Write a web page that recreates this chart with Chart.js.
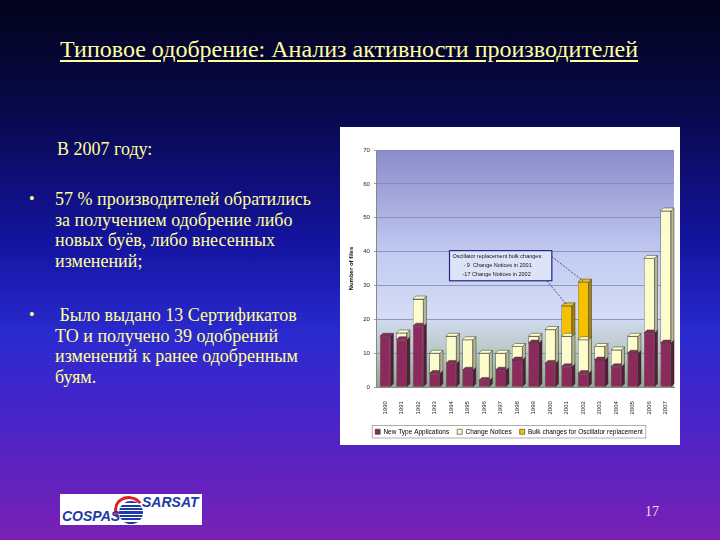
<!DOCTYPE html>
<html>
<head>
<meta charset="utf-8">
<script src="https://cdn.jsdelivr.net/npm/chart.js@4"></script>
<style>
  html, body { margin: 0; padding: 0; }
  body {
    width: 720px; height: 540px; position: relative; overflow: hidden;
    background: linear-gradient(#03031c 0%, #08084a 20%, #1414a0 45%, #2a2ad0 62%, #4a24c8 78%, #7a20b4 100%);
    font-family: "Liberation Serif", "Times New Roman", serif;
  }
  .title {
    position: absolute; left: 60px; top: 36px; white-space: nowrap;
    color: #ffff9c; font-size: 24px; text-decoration: underline; text-underline-offset: 3px;
  }
  .txt { position: absolute; color: #ffff99; font-size: 18px; line-height: 20.5px; white-space: nowrap; }
  .bullet { position: absolute; color: #ffff99; font-size: 16px; }
  .panel { position: absolute; left: 340px; top: 127px; width: 340px; height: 318px; background: #fff; }
  .logo { position: absolute; left: 60px; top: 494px; width: 142px; height: 31px; background: #fff; }
  .logo .cos { position: absolute; left: 2px; top: 14px; font: italic bold 14px "Liberation Sans", Arial, sans-serif; color: #1c3aa8; }
  .logo .sar { position: absolute; left: 82px; top: 0px; font: italic bold 14px "Liberation Sans", Arial, sans-serif; color: #1c3aa8; }
  .logo .globe {
    position: absolute; left: 59px; top: 7px; width: 24px; height: 23px; border-radius: 50%;
    background: repeating-linear-gradient(#1c3aa8 0 2px, #fff 2px 3.5px);
  }
  .logo .arc {
    position: absolute; left: 54px; top: 2px; width: 30px; height: 28px; border-radius: 50%;
    border: 3px solid transparent; border-top-color: #e02020; border-left-color: #e02020;
    transform: rotate(10deg); box-sizing: border-box;
  }
  .page { position: absolute; left: 645px; top: 504px; color: #ffd8f0; font-size: 14px; }
</style>
</head>
<body>
<div class="title">Типовое одобрение: Анализ активности производителей</div>

<div class="txt" style="left:57px; top:139px;">В 2007 году:</div>

<div class="bullet" style="left:29px; top:190px;">•</div>
<div class="txt" style="left:55px; top:189px;">57 % производителей обратились<br>за получением одобрение либо<br>новых буёв, либо внесенных<br>изменений;</div>

<div class="bullet" style="left:29px; top:306px;">•</div>
<div class="txt" style="left:55px; top:305px;">&nbsp;Было выдано 13 Сертификатов<br>ТО и получено 39 одобрений<br>изменений к ранее одобренным<br>буям.</div>

<div class="panel"><canvas id="chart" width="340" height="318"></canvas></div>

<div class="logo">
  <div class="arc"></div>
  <div class="globe"></div>
  <div class="cos">COSPAS</div>
  <div class="sar">SARSAT</div>
</div>
<div class="page">17</div>

<script>
const years = ['1990', '1991', '1992', '1993', '1994', '1995', '1996', '1997', '1998', '1999',
               '2000', '2001', '2002', '2003', '2004', '2005', '2006', '2007'];
const newTypeApps   = [15, 14, 18, 4, 7, 5, 2, 5, 8, 13, 7, 6, 4, 8, 6, 10, 16, 13];
const changeNotices = [0, 2, 8, 6, 8, 9, 8, 5, 4, 2, 10, 9, 10, 4, 5, 5, 22, 39];
const bulkChanges   = [0, 0, 0, 0, 0, 0, 0, 0, 0, 0, 0, 9, 17, 0, 0, 0, 0, 0];
const yTicks = [0, 10, 20, 30, 40, 50, 60, 70];
const noteLines = ['Oscillator replacement bulk changes:', '- 9  Change Notices in 2001', '-17 Change Notices in 2002'];

const seriesNames = ['New Type Applications', 'Change Notices', 'Bulk changes for Oscillator replacement'];
const seriesColors = ['#8c2a5c', '#fdfdcc', '#f6c200'];
const seriesSides = ['#5a1a3a', '#b8b890', '#a88400'];

// plot background: blue at the top fading to grey-green at the floor
const plotBackground = {
    id: 'plotBackground',
    beforeDraw(chart) {
        const { ctx, chartArea: a } = chart;
        const g = ctx.createLinearGradient(0, a.top, 0, a.bottom);
        g.addColorStop(0, '#8a8ccb');
        g.addColorStop(0.45, '#c4ccf2');
        g.addColorStop(0.7, '#d4dcf6');
        g.addColorStop(0.85, '#b8c8c4');
        g.addColorStop(1, '#8ea890');
        ctx.save();
        ctx.fillStyle = g;
        ctx.fillRect(a.left, a.top, a.right - a.left, a.bottom - a.top);
        ctx.restore();
    }
};

// fake 3D: top and side faces on every bar segment
const barDepth = {
    id: 'barDepth',
    afterDatasetsDraw(chart) {
        const ctx = chart.ctx;
        const d = 3;
        ctx.save();
        chart.data.datasets.forEach((ds, di) => {
            chart.getDatasetMeta(di).data.forEach((bar, i) => {
                if (!ds.data[i]) return;
                const half = bar.width / 2;
                const r = bar.x + half, l = bar.x - half, t = bar.y, b = bar.base;
                ctx.fillStyle = seriesSides[di];
                ctx.strokeStyle = '#333';
                ctx.lineWidth = 0.5;
                ctx.beginPath();
                ctx.moveTo(r, b); ctx.lineTo(r + d, b - d); ctx.lineTo(r + d, t - d); ctx.lineTo(r, t);
                ctx.closePath(); ctx.fill(); ctx.stroke();
                ctx.fillStyle = seriesColors[di];
                ctx.beginPath();
                ctx.moveTo(l, t); ctx.lineTo(l + d, t - d); ctx.lineTo(r + d, t - d); ctx.lineTo(r, t);
                ctx.closePath(); ctx.fill(); ctx.stroke();
            });
        });
        ctx.restore();
    }
};

// callout box with dashed leaders to the 2001 and 2002 bulk segments
const callout = {
    id: 'callout',
    afterDraw(chart) {
        const { ctx, scales: { x, y } } = chart;
        const step = x.getPixelForValue(1) - x.getPixelForValue(0);
        const left = x.getPixelForValue(3.9), right = x.getPixelForValue(10.1);
        const top = y.getPixelForValue(40.3), bottom = y.getPixelForValue(31.4);
        const bulkMeta = chart.getDatasetMeta(2).data;
        ctx.save();
        ctx.strokeStyle = '#1e2a7a';
        ctx.lineWidth = 0.8;
        ctx.setLineDash([2, 1.5]);
        ctx.beginPath();
        ctx.moveTo(right, top + 6); ctx.lineTo(bulkMeta[12].x, bulkMeta[12].y - 1);
        ctx.moveTo(right - 0.3 * step, bottom); ctx.lineTo(bulkMeta[11].x, bulkMeta[11].y - 1);
        ctx.stroke();
        ctx.setLineDash([]);
        ctx.fillStyle = '#dde4fa';
        ctx.fillRect(left, top, right - left, bottom - top);
        ctx.lineWidth = 1.2;
        ctx.strokeRect(left, top, right - left, bottom - top);
        ctx.fillStyle = '#111';
        ctx.font = '5.5px "Liberation Sans", Arial, sans-serif';
        ctx.textBaseline = 'middle';
        const lh = (bottom - top) / 3;
        ctx.textAlign = 'left';
        ctx.fillText(noteLines[0], left + 3, top + lh * 0.55);
        ctx.fillText(noteLines[1], left + 14, top + lh * 1.5);
        ctx.fillText(noteLines[2], left + 13, top + lh * 2.4);
        ctx.restore();
    }
};

// frame round the legend
const legendFrame = {
    id: 'legendFrame',
    afterDraw(chart) {
        const lg = chart.legend;
        if (!lg || !lg.legendHitBoxes.length) return;
        const boxes = lg.legendHitBoxes;
        const l = boxes[0].left - 3, t = boxes[0].top - 3;
        const last = boxes[boxes.length - 1];
        const r = last.left + last.width + 3, b = last.top + last.height + 3;
        const ctx = chart.ctx;
        ctx.save();
        ctx.strokeStyle = '#999';
        ctx.lineWidth = 0.8;
        ctx.strokeRect(l, t, r - l, b - t);
        ctx.restore();
    }
};

const datasets = [newTypeApps, changeNotices, bulkChanges].map((vals, k) => ({
    label: seriesNames[k],
    data: vals,
    backgroundColor: seriesColors[k],
    borderColor: '#333',
    borderWidth: 0.6,
    barPercentage: 0.64,
    categoryPercentage: 1.0
}));

new Chart(document.getElementById('chart').getContext('2d'), {
    type: 'bar',
    data: { labels: years, datasets: datasets },
    options: {
        responsive: false,
        animation: false,
        layout: { padding: { top: 23, right: 6, left: 4, bottom: 0 } },
        scales: {
            x: {
                stacked: true,
                grid: { display: false },
                border: { color: '#888' },
                ticks: {
                    color: '#222', font: { size: 6, family: 'Liberation Sans' },
                    minRotation: 90, maxRotation: 90, autoSkip: false, padding: 6
                }
            },
            y: {
                stacked: true,
                min: 0, max: 70,
                afterBuildTicks: (axis) => { axis.ticks = yTicks.map(v => ({ value: v })); },
                grid: { color: '#7f86b4', lineWidth: 0.8, tickLength: 3 },
                border: { color: '#888' },
                ticks: { color: '#222', font: { size: 6, family: 'Liberation Sans' }, padding: 4 },
                title: { display: true, text: 'Number of files', color: '#111', font: { size: 6, family: 'Liberation Sans', weight: 'bold' }, padding: 4 }
            }
        },
        plugins: {
            legend: {
                position: 'bottom',
                labels: {
                    boxWidth: 5, boxHeight: 5, padding: 8,
                    color: '#222', font: { size: 6.5, family: 'Liberation Sans' },
                    generateLabels: (chart) => chart.data.datasets.map((ds, i) => ({
                        text: ds.label, fillStyle: ds.backgroundColor, strokeStyle: '#333',
                        lineWidth: 0.6, datasetIndex: i, hidden: false
                    }))
                }
            },
            tooltip: { enabled: false }
        }
    },
    plugins: [plotBackground, barDepth, callout, legendFrame]
});
</script>
</body>
</html>
